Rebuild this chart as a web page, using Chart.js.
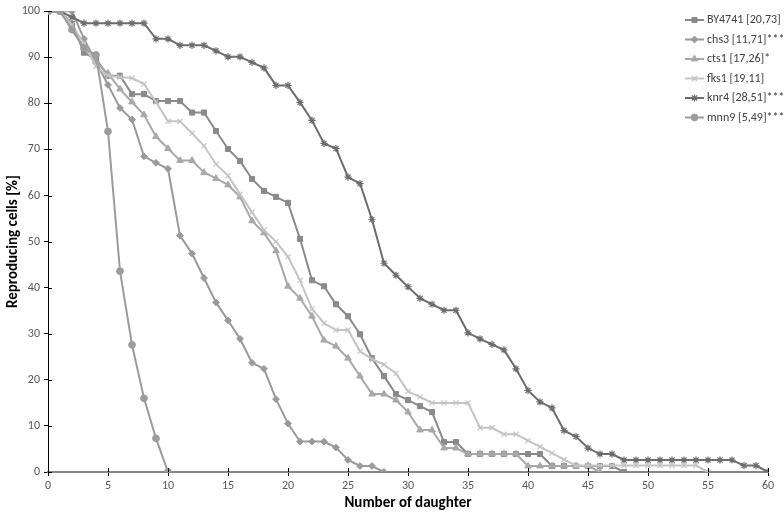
<!DOCTYPE html>
<html><head><meta charset="utf-8">
<script src="https://cdn.jsdelivr.net/npm/chart.js@4/dist/chart.umd.min.js"></script>
<style>html,body{margin:0;padding:0;background:#fff}#wrap{width:784px;height:516px;position:relative}</style>
</head><body><div id="wrap"><canvas id="c" width="784" height="516"></canvas></div>
<script>
// ---- data (x = number of daughter, starting at 0, step 1) ----
const seriesNames = ['BY4741 [20,73]','chs3 [11,71]***','cts1 [17,26]*','fks1 [19,11]','knr4 [28,51]***','mnn9 [5,49]***'];
const by4741 = [100,100,97.3,91,89.6,86,86,82,82,80.5,80.5,80.5,78,78,74,70.1,67.5,63.6,61,59.7,58.4,50.6,41.6,40.3,36.4,33.8,29.9,24.7,20.8,16.9,15.6,14.3,13,6.5,6.5,3.9,3.9,3.9,3.9,3.9,3.9,3.9,1.3,1.3,1.3,1.3,1.3,1.3,0];
const chs3 = [100,100,100,94,89,84,79,76.5,68.5,67.1,65.8,51.3,47.4,42.1,36.8,32.9,28.9,23.7,22.4,15.8,10.5,6.6,6.6,6.6,5.3,2.6,1.3,1.3,0];
const cts1 = [100,100,96,92,89,86.5,83.1,80.3,77.5,72.8,70.2,67.6,67.6,65,63.7,62.3,59.7,54.5,51.9,48,40.3,37.7,33.8,28.6,27.3,24.7,20.8,16.9,16.9,15.6,13,9.1,9.1,5.2,5.2,3.9,3.9,3.9,3.9,3.9,1.3,1.3,1.3,1.3,1.3,1.3,0];
const fks1 = [100,100,97,93,88,86,85.7,85.5,84.2,80.3,76.1,76.1,73.5,70.8,66.8,64.3,60.3,56.4,52.5,50,46.7,41.6,35.4,32.3,30.8,30.8,26.2,24.5,23.3,21.4,17.5,16.3,15,15,15,15,9.6,9.6,8.2,8.2,6.8,5.5,4.1,2.7,1.4,1.4,1.4,1.4,1.4,1.4,1.4,1.4,1.4,1.4,1.4,0];
const knr4 = [100,100,98.7,97.4,97.4,97.4,97.4,97.4,97.4,94,94,92.6,92.6,92.6,91.4,90.1,90.1,88.9,87.7,83.9,83.9,80.2,76.3,71.3,70.2,64,62.6,54.8,45.3,42.7,40.2,37.7,36.4,35.1,35.1,30.2,28.9,27.7,26.5,22.4,17.7,15.2,13.9,9,7.7,5.2,3.9,3.9,2.6,2.6,2.6,2.6,2.6,2.6,2.6,2.6,2.6,2.6,1.4,1.4,0];
const mnn9 = [100,100,96,92,90.5,73.9,43.6,27.6,16,7.3,0];
const xTickStep = 5, xMax = 60;
const yTickStep = 10, yMax = 100;

// ---- styles ----
const styles = [
  {color:'#8a8a8a', point:'rect', r:3.6},
  {color:'#9a9a9a', point:'rectRot', r:3.4},
  {color:'#a8a8a8', point:'triangle', r:3.8},
  {color:'#c4c4c4', point:'crossRot', r:3.6},
  {color:'#6c6c6c', point:'star', r:3.6},
  {color:'#9c9c9c', point:'circle', r:3.4}
];
const allSeries = [by4741, chs3, cts1, fks1, knr4, mnn9];
const toXY = arr => arr.map((v,i)=>({x:i, y:v}));
const FONT = 'Carlito, Calibri, Lato, "Liberation Sans", sans-serif';

const datasets = allSeries.map((arr,k)=>({
  label: seriesNames[k],
  data: toXY(arr),
  borderColor: styles[k].color,
  backgroundColor: styles[k].color,
  borderWidth: 2,
  pointStyle: styles[k].point,
  pointRadius: styles[k].r,
  pointBorderWidth: (styles[k].point==='crossRot'||styles[k].point==='star')?1.2:1,
  pointBackgroundColor: styles[k].color,
  pointBorderColor: styles[k].color,
  order: 6-k,
  tension: 0
}));

const legendPlugin = {
  id:'sideLegend',
  afterDraw(chart){
    const ctx = chart.ctx;
    const x0 = 685, lineLen = 19, y0 = 20, dy = 19.5;
    ctx.save();
    chart.data.datasets.forEach((ds,i)=>{
      const y = y0 + i*dy;
      ctx.strokeStyle = ds.borderColor; ctx.lineWidth = 2;
      ctx.beginPath(); ctx.moveTo(x0,y); ctx.lineTo(x0+lineLen,y); ctx.stroke();
      ctx.fillStyle = ds.pointBackgroundColor; ctx.strokeStyle = ds.pointBorderColor; ctx.lineWidth = ds.pointBorderWidth;
      Chart.helpers.drawPoint(ctx,{pointStyle:ds.pointStyle, radius:ds.pointRadius, borderWidth:ds.pointBorderWidth, rotation:0}, x0+lineLen/2, y);
      ctx.fillStyle = '#404040';
      ctx.font = '12px ' + FONT;
      ctx.textBaseline = 'middle'; ctx.textAlign = 'left';
      ctx.fillText(ds.label, x0+lineLen+3, y);
    });
    ctx.restore();
  }
};

const innerTicks = {
  id:'innerTicks',
  afterDraw(chart){
    const ctx = chart.ctx, xs = chart.scales.x, ys = chart.scales.y;
    ctx.save(); ctx.strokeStyle = '#000'; ctx.lineWidth = 1;
    xs.ticks.forEach(t=>{ const px = Math.round(xs.getPixelForValue(t.value))+0.5;
      ctx.beginPath(); ctx.moveTo(px, xs.top); ctx.lineTo(px, xs.top-4); ctx.stroke(); });
    ys.ticks.forEach(t=>{ const py = Math.round(ys.getPixelForValue(t.value))+0.5;
      ctx.beginPath(); ctx.moveTo(ys.right, py); ctx.lineTo(ys.right+4, py); ctx.stroke(); });
    ctx.restore();
  }
};

new Chart(document.getElementById('c'), {
  type:'line',
  data:{datasets},
  plugins:[innerTicks, legendPlugin],
  options:{
    responsive:false, animation:false,
    layout:{padding:{top:7,right:16,left:0,bottom:0}},
    plugins:{legend:{display:false}, tooltip:{enabled:false}},
    scales:{
      x:{type:'linear', min:0, max:xMax,
        ticks:{stepSize:xTickStep, color:'#595959', font:{size:12, family:FONT}, padding:3, maxRotation:0},
        grid:{drawOnChartArea:false, tickLength:4, color:'#000'},
        border:{color:'#868686', width:2},
        title:{display:true, text:'Number of daughter', color:'#000', font:{size:15, weight:'bold', family:FONT}, padding:{top:3}},
        afterFit:s=>{s.height = 44;}
      },
      y:{min:0, max:yMax,
        ticks:{stepSize:yTickStep, color:'#595959', font:{size:12, family:FONT}, padding:4},
        grid:{drawOnChartArea:false, tickLength:4, color:'#000'},
        border:{color:'#000', width:1},
        title:{display:true, text:'Reproducing cells [%]', color:'#000', font:{size:15, weight:'bold', family:FONT}, padding:{bottom:1}},
        afterFit:s=>{s.width = 48;}
      }
    }
  }
});
</script></body></html>
